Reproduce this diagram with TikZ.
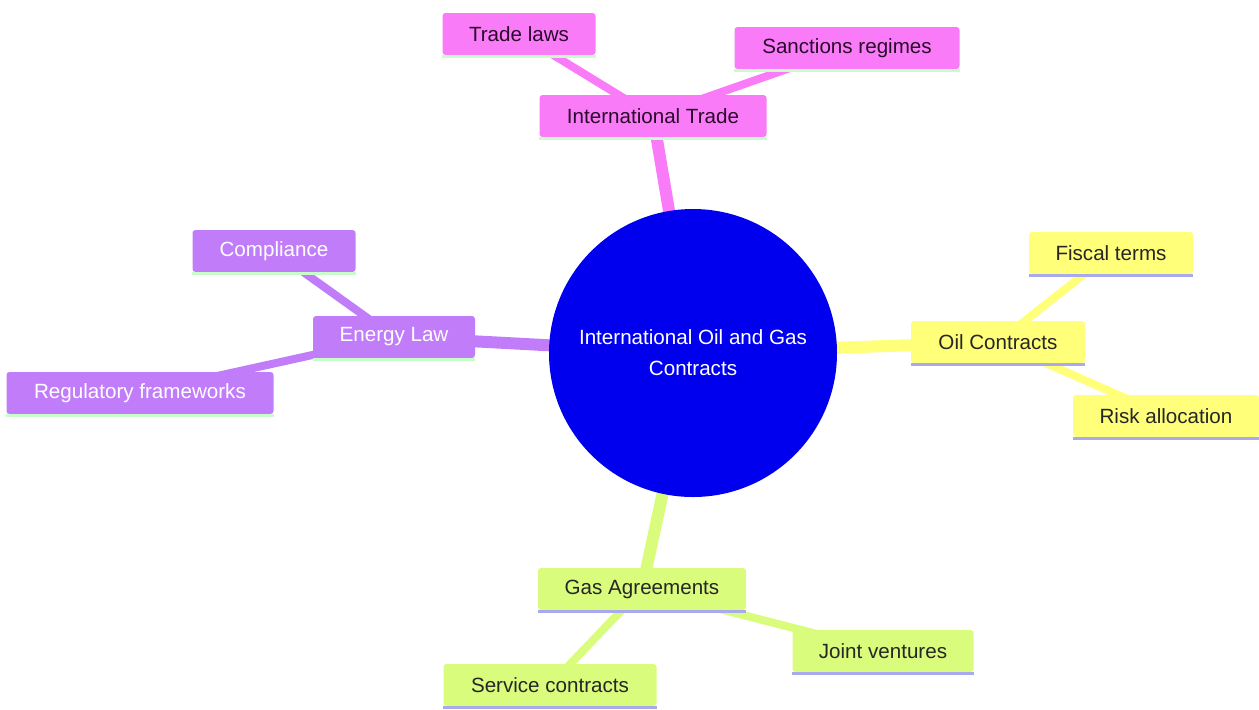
\documentclass[tikz,border=0pt]{standalone}
\usepackage{fontspec}
\setmainfont{Liberation Sans}
\usetikzlibrary{backgrounds}
\definecolor{mpink}{HTML}{FA7BF7}
\definecolor{mpurple}{HTML}{C17DF9}
\definecolor{myellow}{HTML}{FFFF7A}
\definecolor{mgreen}{HTML}{DAFC7C}
\definecolor{ulgreen}{HTML}{C8FCC8}
\definecolor{ullav}{HTML}{A9A9EE}
\definecolor{mblue}{HTML}{0000EE}
\definecolor{darktxt}{HTML}{2A0A2A}
\begin{document}
\begin{tikzpicture}[x=0.5pt,y=-0.5pt,
  box/.style={rectangle, rounded corners=1.5pt, inner sep=0pt, minimum height=21pt,
    font=\fontsize{10.3}{12}\selectfont},
  pinkbox/.style={box, fill=mpink, text=darktxt},
  purplebox/.style={box, fill=mpurple, text=white},
  yellowbox/.style={box, fill=myellow, text=black!85},
  greenbox/.style={box, fill=mgreen, text=black!85},
  rootedge/.style={line width=6pt},
  leafedge/.style={line width=4pt},
  ulg/.style={draw=ulgreen, line width=1.5pt},
  ull/.style={draw=ullav, line width=1.5pt}]
\useasboundingbox (0,0) rectangle (1259,709);

\node[circle, fill=mblue, minimum size=144pt, inner sep=0pt, text=white, align=center,
  font=\fontsize{10.3}{15.5}\selectfont] (root) at (693,353) {International Oil and Gas\\Contracts};

\node[pinkbox, minimum width=113.5pt] (trade) at (653,116) {International Trade};
\node[pinkbox, minimum width=76.5pt] (laws) at (519,34) {Trade laws};
\node[pinkbox, minimum width=112.5pt] (sanc) at (847,48) {Sanctions regimes};

\node[purplebox, minimum width=81pt] (energy) at (394,337) {Energy Law};
\node[purplebox, minimum width=81.5pt] (comp) at (274,251) {Compliance};
\node[purplebox, minimum width=133.5pt] (reg) at (140,393) {Regulatory frameworks};

\node[yellowbox, minimum width=87pt] (oil) at (998,342) {Oil Contracts};
\node[yellowbox, minimum width=82pt] (fisc) at (1111,253) {Fiscal terms};
\node[yellowbox, minimum width=93pt] (risk) at (1166,416) {Risk allocation};

\node[greenbox, minimum width=104pt] (gas) at (642,589) {Gas Agreements};
\node[greenbox, minimum width=90.5pt] (joint) at (883,651) {Joint ventures};
\node[greenbox, minimum width=106.5pt] (serv) at (550,685) {Service contracts};

\begin{scope}[on background layer]
  \draw[rootedge, mpink] (root.center) -- (trade.center);
  \draw[rootedge, mpurple] (root.center) -- (energy.center);
  \draw[rootedge, myellow] (root.center) -- (oil.center);
  \draw[rootedge, mgreen] (root.center) -- (gas.center);
  \draw[leafedge, mpink] (trade.center) -- (laws.center);
  \draw[leafedge, mpink] (trade.center) -- (sanc.center);
  \draw[leafedge, mpurple] (energy.center) -- (comp.center);
  \draw[leafedge, mpurple] (energy.center) -- (reg.center);
  \draw[leafedge, myellow] (oil.center) -- (fisc.center);
  \draw[leafedge, myellow] (oil.center) -- (risk.center);
  \draw[leafedge, mgreen] (gas.center) -- (joint.center);
  \draw[leafedge, mgreen] (gas.center) -- (serv.center);
\end{scope}

\foreach \n in {trade,laws,sanc,energy,comp,reg}
  \draw[ulg] ([yshift=-0.75pt]\n.south west) -- ([yshift=-0.75pt]\n.south east);
\foreach \n in {oil,fisc,risk,gas,joint,serv}
  \draw[ull] ([yshift=-0.75pt]\n.south west) -- ([yshift=-0.75pt]\n.south east);
\end{tikzpicture}
\end{document}
